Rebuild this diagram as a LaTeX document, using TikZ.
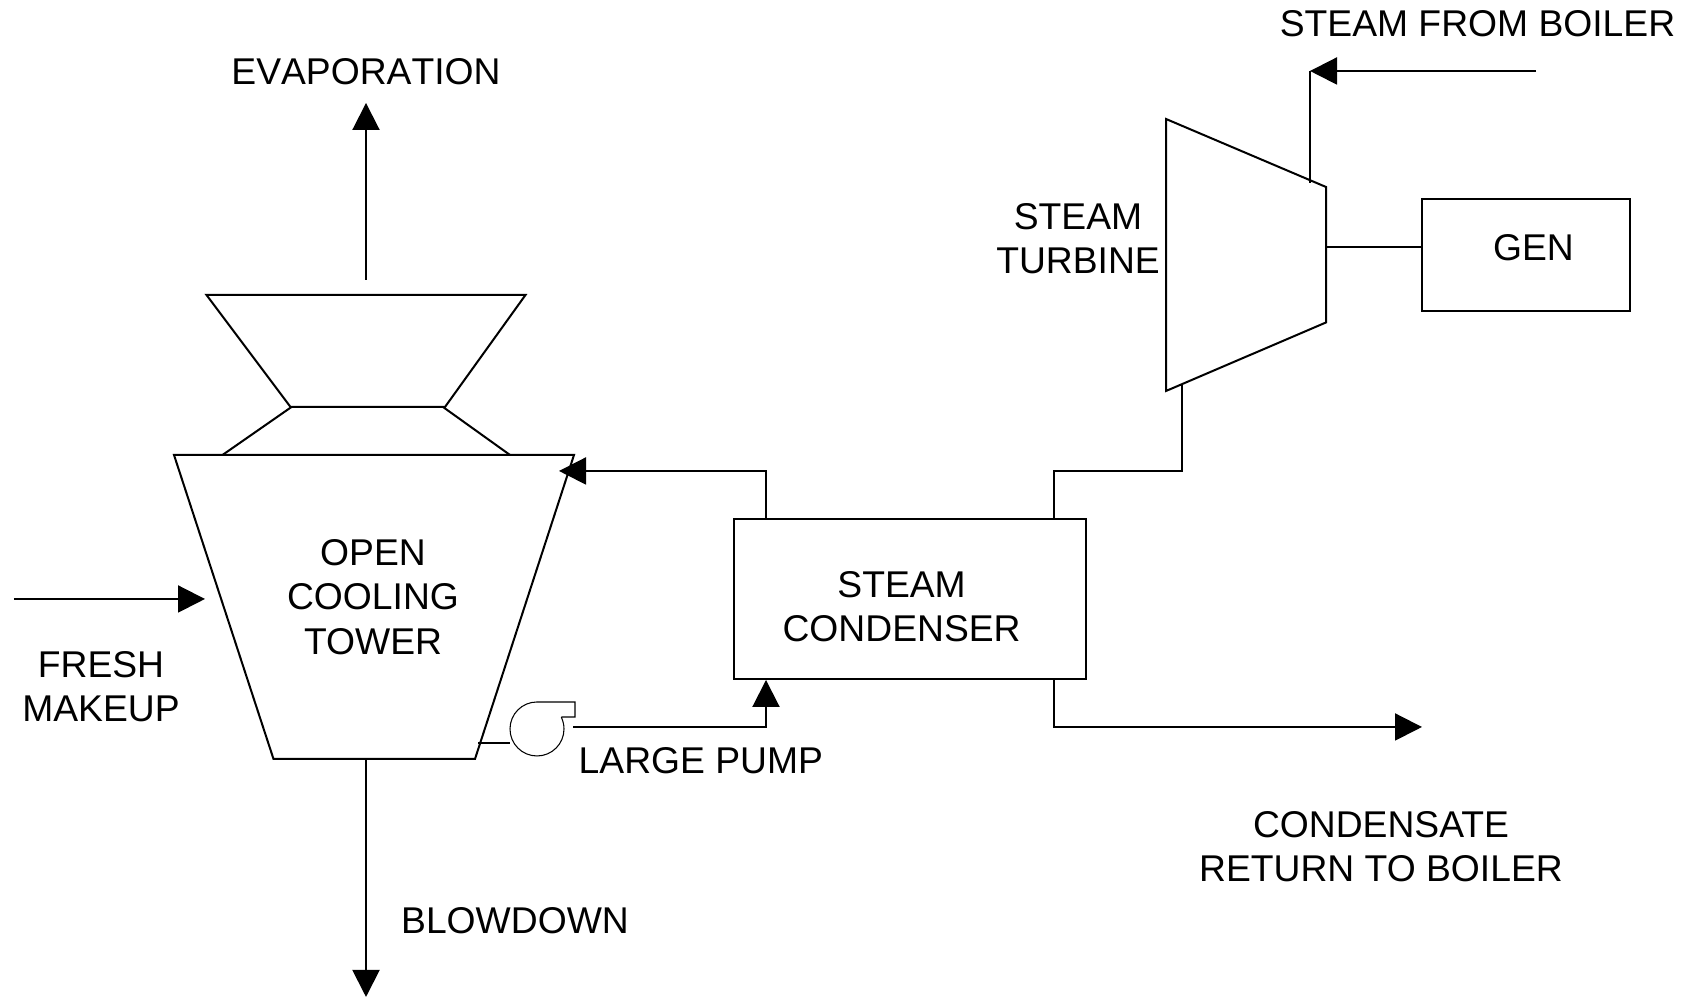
\documentclass[tikz,border=0pt]{standalone}
\usepackage{fontspec}
\setmainfont{Liberation Sans}
\usetikzlibrary{arrows.meta}
\tikzset{
  line/.style={line width=0.57pt,line join=miter},
  flow/.style={line,-{Triangle[length=0.27cm,width=0.27cm]}},
  thin line/.style={line width=0.3pt},
  lab/.style={align=center,inner sep=0pt,font=\fontsize{10.6}{12.6}\selectfont}
}
\begin{document}
\begin{tikzpicture}
  \useasboundingbox (0,0) rectangle (16.85,9.97);
  % tower
  \draw[line] (1.74,5.42) -- (5.74,5.42) -- (4.75,2.38) -- (2.735,2.38) -- cycle;
  \draw[line] (2.065,7.02) -- (5.255,7.02) -- (4.45,5.90) -- (2.905,5.90) -- cycle;
  \draw[line] (2.225,5.42) -- (2.915,5.90);
  \draw[line] (5.10,5.42) -- (4.43,5.90);
  % turbine
  \draw[line] (11.66,8.78) -- (13.26,8.10) -- (13.26,6.745) -- (11.66,6.06) -- cycle;
  % pump
  \draw[thin line] (5.613,2.80) -- (5.75,2.80) -- (5.75,2.95) -- (5.37,2.95) arc (90:386:0.27);
  % boxes
  \node[draw,line,minimum width=3.52cm,minimum height=1.6cm] (condenser) at (9.10,3.98) {};
  \node[draw,line,minimum width=2.08cm,minimum height=1.12cm] (gen) at (15.26,7.42) {};
  % labels
  \node[lab] (evap) at (3.66,9.25) {\addfontfeature{Kerning=Off}EVAPORATION};
  \node[lab] (steamin) at (14.775,9.73) {STEAM FROM BOILER};
  \node[lab] (towerlab) at (3.73,4.00) {OPEN\\COOLING\\TOWER};
  \node[lab] (makeup) at (1.01,3.10) {FRESH\\MAKEUP};
  \node[lab,anchor=west] (pumplab) at (5.78,2.365) {LARGE PUMP};
  \node[lab] (blowdown) at (5.15,0.765) {BLOWDOWN};
  \node[lab] (condensate) at (13.81,1.50) {CONDENSATE\\RETURN TO BOILER};
  \node[lab] (turblab) at (10.78,7.585) {STEAM\\TURBINE};
  \node[lab] (genlab) at (15.335,7.49) {GEN};
  \node[lab] (condlab) at (9.016,3.90) {STEAM\\CONDENSER};
  % connector ends
  \coordinate (evapa) at (3.66,7.17);
  \coordinate (evapb) at (3.66,8.94);
  \coordinate (blowa) at (3.66,2.38);
  \coordinate (blowb) at (3.66,0);
  \coordinate (freshaa) at (0.14,3.98);
  \coordinate (freshb) at (2.05,3.98);
  \coordinate (suca) at (4.78,2.54);
  \coordinate (sucb) at (5.10,2.54);
  \coordinate (disa) at (5.73,2.70);
  \coordinate (disb) at (7.66,2.70);
  \coordinate (reta) at (7.66,5.26);
  \coordinate (retb) at (5.59,5.26);
  \coordinate (exa) at (10.54,5.26);
  \coordinate (exb) at (11.82,5.26);
  \coordinate (exc) at (11.82,6.12);
  \coordinate (cona) at (10.54,2.70);
  \coordinate (conb) at (14.22,2.70);
  \coordinate (ina) at (15.36,9.26);
  \coordinate (inb) at (13.10,9.26);
  \coordinate (inc) at (13.10,8.14);
  \coordinate (shafta) at (13.26,7.50);
  % flows
  \draw[flow] (evapa) -- (evapb);
  \draw[flow] (blowa) -- (blowb);
  \draw[flow] (freshaa) -- (freshb);
  \draw[line] (suca) -- (sucb);
  \draw[flow] (disa) -- (disb) -- (disb |- condenser.south);
  \draw[flow] (disb |- condenser.north) -- (reta) -- (retb);
  \draw[line] (exa |- condenser.north) -- (exa) -- (exb) -- (exc);
  \draw[flow] (cona |- condenser.south) -- (cona) -- (conb);
  \draw[flow] (ina) -- (inb);
  \draw[line] (inb) -- (inc);
  \draw[line] (shafta) -- (shafta -| gen.west);
\end{tikzpicture}
\end{document}
